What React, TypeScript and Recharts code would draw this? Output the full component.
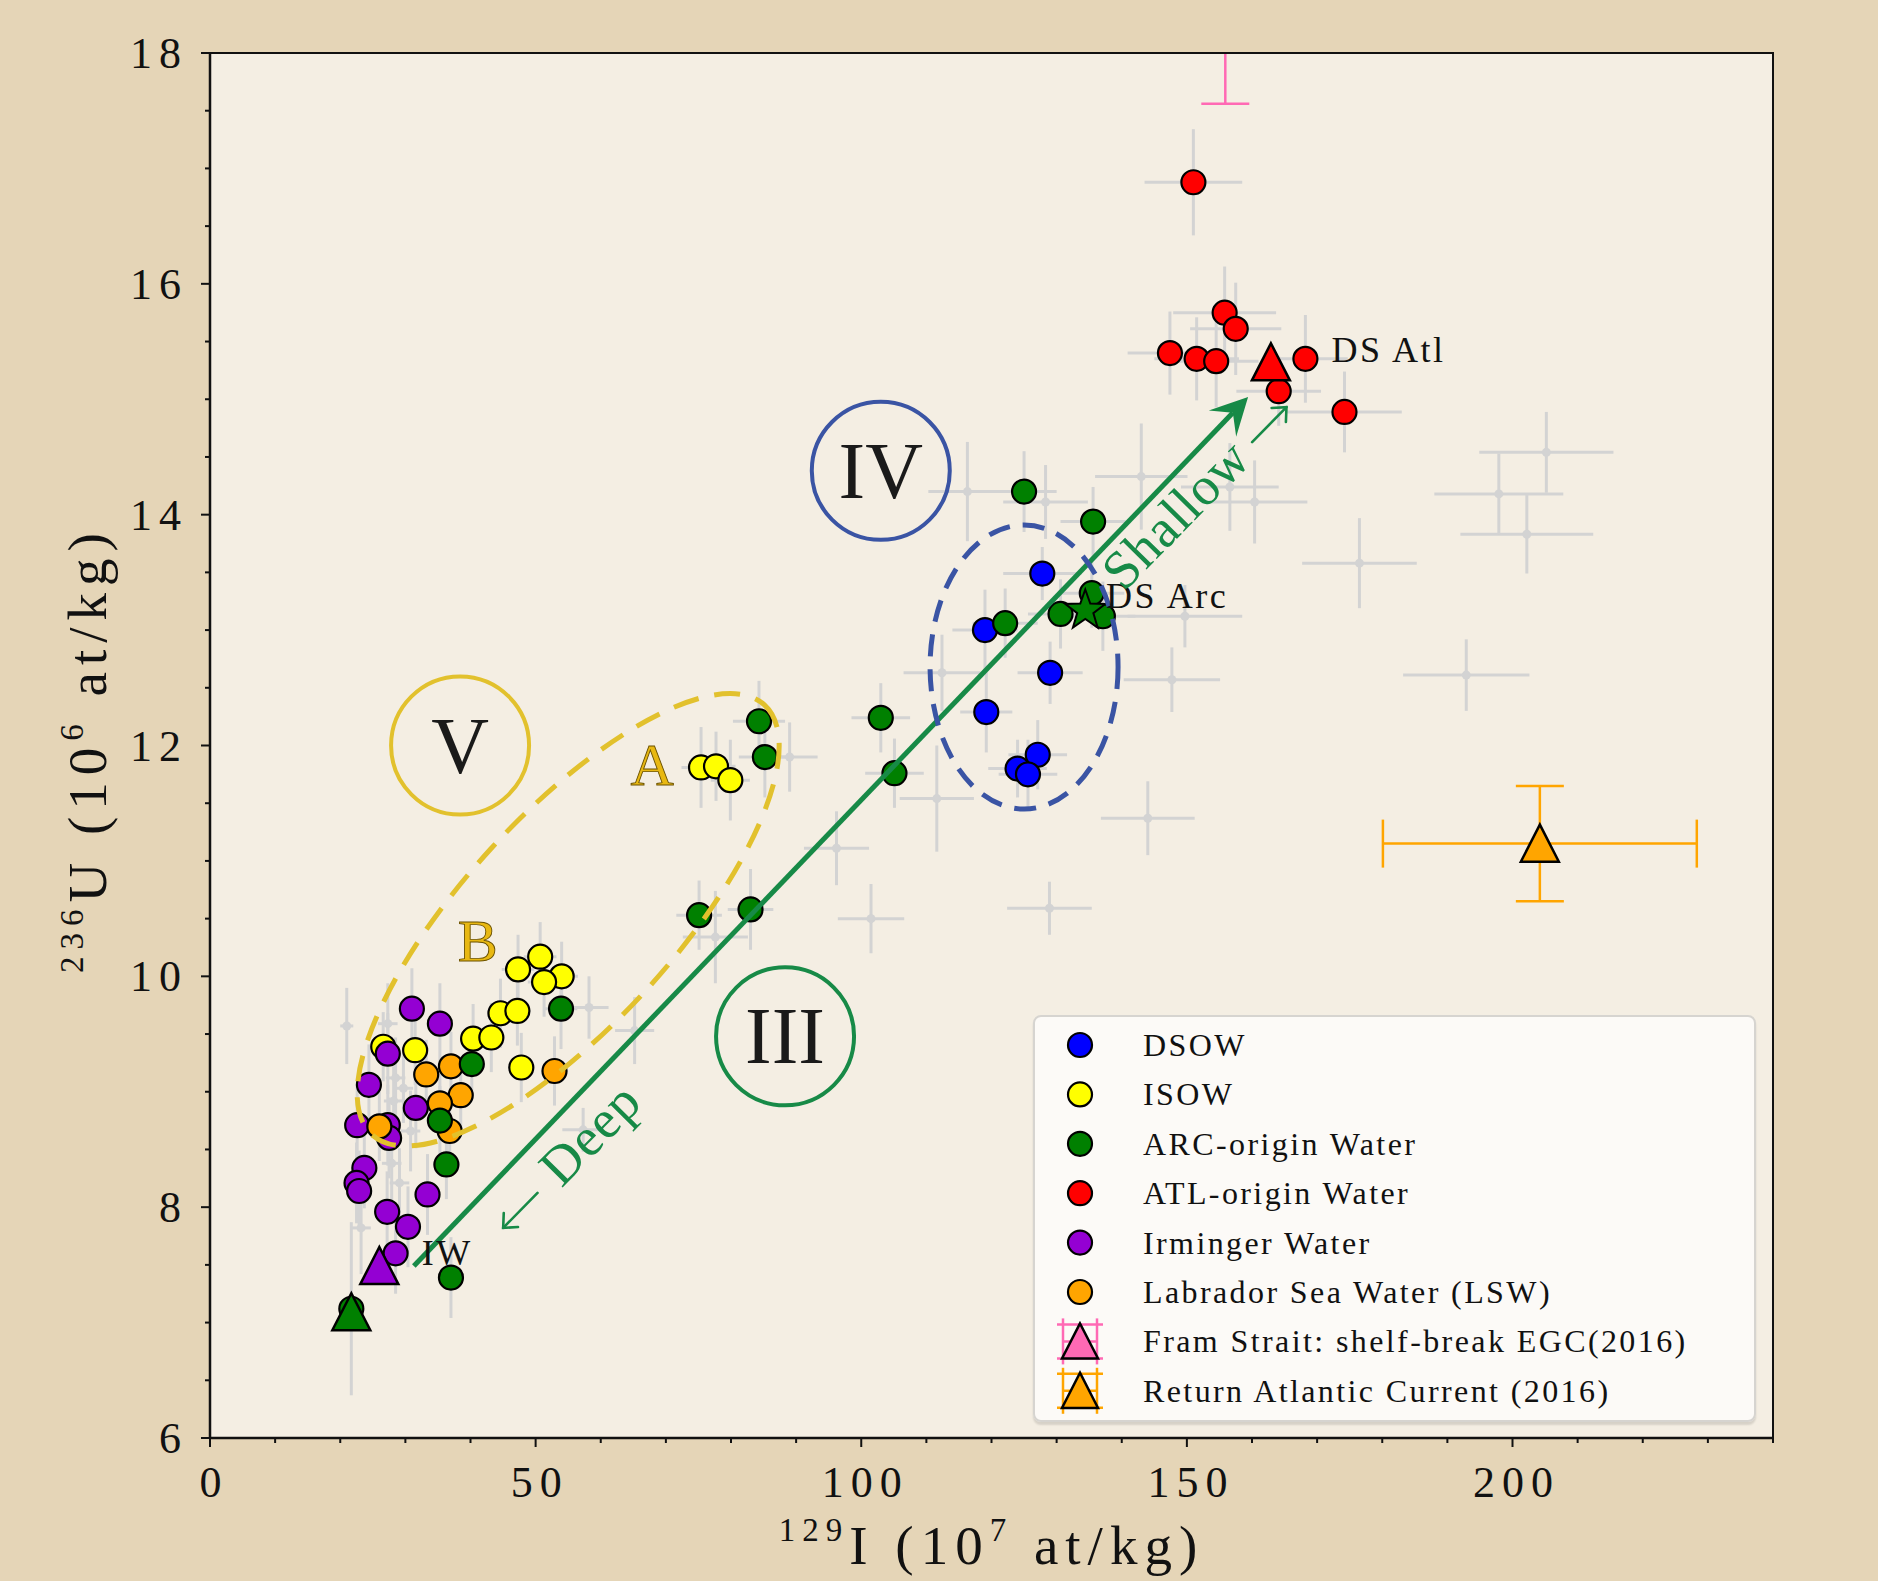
import React from "react";
import {
  ScatterChart,
  Scatter,
  XAxis,
  YAxis,
  ErrorBar,
  ReferenceDot,
  ReferenceLine,
  ReferenceArea,
  CartesianGrid,
  Legend,
} from "recharts";

// [129I, 236U, xErr, yErr]
type Row = [number, number, number, number];

const SERIF = "'Liberation Serif', 'DejaVu Serif', serif";

const xTicks = [0, 10, 20, 30, 40, 50, 60, 70, 80, 90, 100, 110, 120, 130, 140, 150, 160, 170, 180, 190, 200, 210, 220, 230, 240];
const xLabelTicks = [0, 50, 100, 150, 200];
const yTicks = [6, 6.5, 7, 7.5, 8, 8.5, 9, 9.5, 10, 10.5, 11, 11.5, 12, 12.5, 13, 13.5, 14, 14.5, 15, 15.5, 16, 16.5, 17, 17.5, 18];
const yLabelTicks = [6, 8, 10, 12, 14, 16, 18];

const dsow: Row[] = [
  [127.8, 13.49, 6.0, 0.23],
  [119.0, 13.0, 5.0, 0.35],
  [129.0, 12.63, 5.0, 0.27],
  [119.2, 12.29, 4.0, 0.35],
  [127.1, 11.92, 4.5, 0.3],
  [124.0, 11.8, 4.5, 0.25],
  [125.6, 11.75, 4.5, 0.3],
];

const isow: Row[] = [
  [75.4, 11.81, 3, 0.35],
  [77.7, 11.82, 3, 0.3],
  [79.9, 11.7, 3, 0.35],
  [50.7, 10.17, 2.5, 0.3],
  [47.3, 10.06, 2.5, 0.3],
  [54.0, 10.0, 2.5, 0.3],
  [51.3, 9.95, 2.5, 0.3],
  [44.6, 9.68, 2, 0.3],
  [47.2, 9.7, 2, 0.3],
  [40.4, 9.46, 2, 0.3],
  [43.2, 9.47, 2, 0.3],
  [26.6, 9.39, 1.5, 0.3],
  [31.5, 9.36, 2, 0.3],
  [47.8, 9.21, 2, 0.3],
];

const arcWater: Row[] = [
  [125.0, 14.2, 5, 0.35],
  [135.6, 13.94, 5, 0.3],
  [135.4, 13.32, 5, 0.3],
  [130.6, 13.14, 5, 0.3],
  [137.1, 13.12, 5, 0.3],
  [122.1, 13.06, 5, 0.3],
  [103.0, 12.24, 4.5, 0.3],
  [105.1, 11.76, 4.5, 0.3],
  [84.3, 12.21, 4, 0.35],
  [85.2, 11.9, 4, 0.35],
  [75.1, 10.53, 3.5, 0.3],
  [83.0, 10.58, 3.5, 0.35],
  [53.9, 9.72, 2.5, 0.35],
  [40.2, 9.24, 2, 0.3],
  [35.3, 8.75, 2, 0.3],
  [36.3, 8.37, 2, 0.3],
  [37.0, 7.39, 2, 0.35],
  [21.7, 7.12, 1.5, 0.75],
];

const atlWater: Row[] = [
  [151.0, 16.88, 7.5, 0.46],
  [155.8, 15.75, 7.9, 0.4],
  [157.5, 15.61, 7, 0.4],
  [147.4, 15.4, 6.5, 0.36],
  [151.5, 15.35, 6.5, 0.36],
  [154.5, 15.33, 6.5, 0.4],
  [168.2, 15.35, 6.5, 0.38],
  [164.1, 15.07, 6.5, 0.3],
  [174.2, 14.89, 8.8, 0.35],
];

const irminger: Row[] = [
  [31.0, 9.72, 1.5, 0.35],
  [35.3, 9.59, 1.5, 0.35],
  [27.3, 9.33, 1.5, 0.35],
  [24.4, 9.06, 1.5, 0.35],
  [31.6, 8.86, 1.5, 0.35],
  [22.6, 8.71, 1.5, 0.35],
  [27.3, 8.71, 1.5, 0.35],
  [27.5, 8.6, 1.5, 0.35],
  [23.7, 8.34, 1.5, 0.35],
  [22.5, 8.21, 1.5, 0.35],
  [22.9, 8.14, 1.5, 0.35],
  [33.4, 8.11, 1.5, 0.35],
  [27.2, 7.96, 1.5, 0.35],
  [30.4, 7.83, 1.5, 0.35],
  [28.5, 7.6, 1.5, 0.35],
];

const lsw: Row[] = [
  [37.0, 9.22, 2, 0.3],
  [33.2, 9.15, 2, 0.3],
  [52.9, 9.18, 2, 0.3],
  [38.5, 8.97, 2, 0.3],
  [35.3, 8.9, 2, 0.3],
  [36.8, 8.66, 2, 0.3],
  [26.0, 8.7, 2, 0.3],
];

// other stations, drawn in light grey
const otherStations: Row[] = [
  [205.2, 14.54, 10.3, 0.35],
  [197.9, 14.18, 9.9, 0.35],
  [202.2, 13.83, 10.2, 0.34],
  [176.5, 13.58, 8.8, 0.39],
  [192.9, 12.61, 9.7, 0.31],
  [116.3, 14.2, 6, 0.43],
  [128.3, 14.11, 6.5, 0.32],
  [143.0, 14.33, 7.1, 0.46],
  [156.6, 14.24, 7.5, 0.38],
  [160.4, 14.11, 8.1, 0.36],
  [149.7, 13.12, 8.8, 0.27],
  [112.4, 12.63, 5.9, 0.33],
  [147.7, 12.57, 7.4, 0.28],
  [111.6, 11.54, 5.7, 0.46],
  [144.0, 11.37, 7.2, 0.32],
  [96.2, 11.11, 5, 0.32],
  [101.5, 10.5, 5.1, 0.3],
  [128.9, 10.59, 6.5, 0.23],
  [89.0, 11.9, 4.3, 0.3],
  [77.6, 10.34, 5, 0.4],
  [58.2, 9.73, 3, 0.27],
  [65.2, 9.53, 3, 0.29],
  [57.3, 8.67, 3.2, 0.19],
  [21.0, 9.57, 1, 0.33],
  [27.3, 9.59, 1.5, 0.35],
  [28.5, 9.12, 1.5, 0.35],
  [29.7, 9.03, 1.5, 0.3],
  [28.2, 8.92, 1.5, 0.3],
  [30.8, 8.66, 1.5, 0.35],
  [27.9, 8.38, 1.5, 0.35],
  [29.1, 8.21, 1.5, 0.3],
  [23.2, 7.82, 1.5, 0.4],
];

// end members
const dsAtl: Row[] = [[162.9, 15.32, 0, 0]];
const dsArc: Row[] = [[134.4, 13.17, 0, 0]];
const iwEnd: Row[] = [[26.0, 7.49, 0, 0]];
const arcEnd: Row[] = [[21.7, 7.09, 0, 0]];
const framStrait: Row[] = [[155.9, 19.3, 7, 1.74]];
const returnAtlantic: Row[] = [[204.2, 11.15, 24.1, 0.5]];

const legendLabels = [
  "DSOW",
  "ISOW",
  "ARC-origin Water",
  "ATL-origin Water",
  "Irminger Water",
  "Labrador Sea Water (LSW)",
  "Fram Strait: shelf-break EGC(2016)",
  "Return Atlantic Current (2016)",
];
const legendColors = ["#0000ff", "#ffff00", "#008000", "#ff0000", "#9400d3", "#ffa500", "#ff69b4", "#ffa500"];

const pts = (rows: Row[]) => rows.map(([x, y, ex, ey]) => ({ x, y, ex, ey }));

const GREEN_LINE = "#178a47";
const BLUE_RING = "#3a54a4";
const GOLD = "#e2c12d";
const CLIP = "url(#plot-area-clip)";

const dot = (fill: string) => (p: any) => (
  <circle cx={p.cx} cy={p.cy} r={12} fill={fill} stroke="#000" strokeWidth={2.2} />
);

const triPoints = (cx: number, cy: number, s: number) =>
  `${cx},${cy - s} ${cx - s},${cy + s * 0.95} ${cx + s},${cy + s * 0.95}`;

const tri = (fill: string) => (p: any) => (
  <polygon points={triPoints(p.cx, p.cy, 19)} fill={fill} stroke="#000" strokeWidth={2.5} clipPath={CLIP} />
);

const starPoints = (cx: number, cy: number, R: number, r: number) => {
  const out: string[] = [];
  for (let i = 0; i < 10; i++) {
    const a = -Math.PI / 2 + (i * Math.PI) / 5;
    const rr = i % 2 === 0 ? R : r;
    out.push(`${cx + rr * Math.cos(a)},${cy + rr * Math.sin(a)}`);
  }
  return out.join(" ");
};

const star = (p: any) => (
  <polygon points={starPoints(p.cx, p.cy, 21, 8.5)} fill="#008000" stroke="#000" strokeWidth={2} />
);

const XTick = (p: any) => {
  const v = p.payload.value;
  const major = xLabelTicks.includes(v);
  return (
    <g>
      <line x1={p.x} x2={p.x} y1={p.y} y2={p.y + (major ? 9 : 5)} stroke="#111" strokeWidth={2} />
      {major && (
        <text x={p.x + 4} y={p.y + 59} textAnchor="middle" fontFamily={SERIF} fontSize={44} letterSpacing={7} fill="#111">
          {v}
        </text>
      )}
    </g>
  );
};

const YTick = (p: any) => {
  const v = p.payload.value;
  const major = yLabelTicks.includes(v);
  return (
    <g>
      <line x1={p.x} x2={p.x - (major ? 9 : 5)} y1={p.y} y2={p.y} stroke="#111" strokeWidth={2} />
      {major && (
        <text x={p.x - 22} y={p.y + 15} textAnchor="end" fontFamily={SERIF} fontSize={44} letterSpacing={7} fill="#111">
          {v}
        </text>
      )}
    </g>
  );
};

const XTitle = (props: any) => {
  const vb = props.viewBox ?? { x: 210, y: 1438, width: 1563, height: 143 };
  const cx = vb.x + vb.width / 2;
  return (
    <text x={cx} y={vb.y + 126} textAnchor="middle" fontFamily={SERIF} fontSize={55} letterSpacing={7} fill="#111">
      <tspan fontSize={33} dy={-23}>129</tspan>
      <tspan dy={23}>I (10</tspan>
      <tspan fontSize={33} dy={-23}>7</tspan>
      <tspan dy={23}> at/kg)</tspan>
    </text>
  );
};

const YTitle = (props: any) => {
  const vb = props.viewBox ?? { x: 0, y: 53, width: 210, height: 1385 };
  const cy = vb.y + vb.height / 2 + 4;
  const x = 106;
  return (
    <text x={x} y={cy} transform={`rotate(-90 ${x} ${cy})`} textAnchor="middle" fontFamily={SERIF} fontSize={55} letterSpacing={7} fill="#111">
      <tspan fontSize={33} dy={-23}>236</tspan>
      <tspan dy={23}>U (10</tspan>
      <tspan fontSize={33} dy={-23}>6</tspan>
      <tspan dy={23}> at/kg)</tspan>
    </text>
  );
};

const ArrowShape = (p: any) => {
  const { x1, y1, x2, y2 } = p;
  const dx = x2 - x1;
  const dy = y2 - y1;
  const len = Math.hypot(dx, dy) || 1;
  const ux = dx / len;
  const uy = dy / len;
  const nx = -uy;
  const ny = ux;
  const L = 37;
  const w = 19;
  const notch = 22;
  const bx = x2 - L * ux;
  const by = y2 - L * uy;
  const head = `${x2},${y2} ${bx + w * nx},${by + w * ny} ${x2 - notch * ux},${y2 - notch * uy} ${bx - w * nx},${by - w * ny}`;
  return (
    <g>
      <line x1={x1} y1={y1} x2={x2 - notch * ux} y2={y2 - notch * uy} stroke={GREEN_LINE} strokeWidth={5} />
      <polygon points={head} fill={GREEN_LINE} />
    </g>
  );
};

const ring = (label: string, color: string) => (p: any) => (
  <g>
    <circle cx={p.cx} cy={p.cy} r={69} fill="none" stroke={color} strokeWidth={4} />
    <text x={p.cx} y={p.cy + 27} textAnchor="middle" fontFamily={SERIF} fontSize={80} fill="#1a1a1a">
      {label}
    </text>
  </g>
);

const dashedEllipse = (rx: number, ry: number, angle: number, color: string, dash: string) => (p: any) => (
  <ellipse
    cx={p.cx}
    cy={p.cy}
    rx={rx}
    ry={ry}
    transform={`rotate(${angle} ${p.cx} ${p.cy})`}
    fill="none"
    stroke={color}
    strokeWidth={5}
    strokeDasharray={dash}
  />
);

const label =
  (text: string, opts: { size: number; anchor?: string; fill?: string; stroke?: string; spacing?: number }) =>
  (p: any) => (
    <text
      x={p.cx}
      y={p.cy}
      textAnchor={opts.anchor ?? "start"}
      fontFamily={SERIF}
      fontSize={opts.size}
      letterSpacing={opts.spacing ?? 2.5}
      fill={opts.fill ?? "#111"}
      stroke={opts.stroke ?? "none"}
      strokeWidth={opts.stroke ? 0.9 : 0}
    >
      {text}
    </text>
  );

// rotated word with a thin text-style arrow; anchor is the baseline point between word and arrow
const directionLabel = (word: string, arrowAfter: boolean) => (p: any) => {
  const ay = -14;
  const a0 = arrowAfter ? 7 : -10;
  const a1 = arrowAfter ? 56 : -59;
  const s = arrowAfter ? 1 : -1;
  return (
    <g transform={`rotate(-45.5 ${p.cx} ${p.cy}) translate(${p.cx} ${p.cy})`}>
      <text
        x={arrowAfter ? -6 : 10}
        y={0}
        textAnchor={arrowAfter ? "end" : "start"}
        fontFamily={SERIF}
        fontSize={54}
        letterSpacing={1}
        fill={GREEN_LINE}
      >
        {word}
      </text>
      <g stroke={GREEN_LINE} strokeWidth={2.6} fill="none" strokeLinecap="round">
        <line x1={a0} y1={ay} x2={a1} y2={ay} />
        <polyline points={`${a1 - s * 11},${ay - 10} ${a1},${ay} ${a1 - s * 11},${ay + 10}`} />
      </g>
    </g>
  );
};

const FrameShape = (p: any) => (
  <g>
    <defs>
      <clipPath id="plot-area-clip">
        <rect x={p.x} y={p.y} width={p.width} height={p.height} />
      </clipPath>
    </defs>
    <rect x={p.x} y={p.y} width={p.width} height={p.height} fill="none" stroke="#111" strokeWidth={2} />
  </g>
);

const LegendMarker = ({ i, cx, cy }: { i: number; cx: number; cy: number }) => {
  const color = legendColors[i];
  if (i < 6) return <circle cx={cx} cy={cy} r={12} fill={color} stroke="#000" strokeWidth={2.2} />;
  return (
    <g stroke={color} strokeWidth={2.5}>
      <line x1={cx} x2={cx} y1={cy - 17} y2={cy + 17} />
      <line x1={cx - 23} x2={cx + 23} y1={cy - 17} y2={cy - 17} />
      <line x1={cx - 23} x2={cx + 23} y1={cy + 17} y2={cy + 17} />
      <line x1={cx - 17} x2={cx + 17} y1={cy} y2={cy} />
      <line x1={cx - 17} x2={cx - 17} y1={cy - 23} y2={cy + 23} />
      <line x1={cx + 17} x2={cx + 17} y1={cy - 23} y2={cy + 23} />
      <polygon points={triPoints(cx, cy, 18)} fill={color} stroke="#000" strokeWidth={2.5} />
    </g>
  );
};

const LegendBox = () => (
  <div
    style={{
      width: 723,
      height: 407,
      boxSizing: "border-box",
      background: "rgba(252,251,249,0.93)",
      border: "2px solid #d6d4d0",
      borderRadius: 8,
      boxShadow: "0 3px 2px rgba(0,0,0,0.12)",
    }}
  >
    <svg width={719} height={403} style={{ display: "block" }}>
      {legendLabels.map((t, i) => {
        const cy = 28 + i * 49.4;
        return (
          <g key={t}>
            <LegendMarker i={i} cx={45} cy={cy} />
            <text x={108} y={cy + 11} fontFamily={SERIF} fontSize={32} letterSpacing={2.4} fill="#111">
              {t}
            </text>
          </g>
        );
      })}
    </svg>
  </div>
);

const allColored = [...dsow, ...isow, ...arcWater, ...atlWater, ...irminger, ...lsw];

const none = () => <g />;

export default function App() {
  return (
    <div
      style={{
        position: "absolute",
        left: 0,
        top: 0,
        width: 1878,
        height: 1581,
        background: "#e5d5b7",
        fontFamily: SERIF,
      }}
    >
      <ScatterChart width={1878} height={1581} margin={{ top: 53, right: 105, bottom: 0, left: 0 }}>
        <CartesianGrid horizontal={false} vertical={false} fill="#f4eee3" fillOpacity={1} />
        <XAxis
          type="number"
          dataKey="x"
          domain={[0, 240]}
          allowDataOverflow
          ticks={xTicks}
          interval={0}
          tickSize={0}
          tickMargin={0}
          tickLine={false}
          tick={<XTick />}
          height={143}
          axisLine={{ stroke: "#111", strokeWidth: 2.5 }}
          label={XTitle}
        />
        <YAxis
          type="number"
          dataKey="y"
          domain={[6, 18]}
          allowDataOverflow
          ticks={yTicks}
          interval={0}
          tickSize={0}
          tickMargin={0}
          tickLine={false}
          tick={<YTick />}
          width={210}
          axisLine={{ stroke: "#111", strokeWidth: 2.5 }}
          label={YTitle}
        />

        {/* grey stations */}
        <Scatter data={pts(otherStations)} shape={(p: any) => <circle cx={p.cx} cy={p.cy} r={4.5} fill="#d3d3d3" />} isAnimationActive={false} zIndex={601}>
          <ErrorBar dataKey="ex" direction="x" width={0} stroke="#d3d3d3" strokeWidth={3} isAnimationActive={false} />
          <ErrorBar dataKey="ey" direction="y" width={0} stroke="#d3d3d3" strokeWidth={3} isAnimationActive={false} />
        </Scatter>

        {/* error bars of all coloured samples, kept under every marker */}
        <Scatter data={pts(allColored)} shape={none} isAnimationActive={false} zIndex={602}>
          <ErrorBar dataKey="ex" direction="x" width={0} stroke="#d3d3d3" strokeWidth={3} isAnimationActive={false} />
          <ErrorBar dataKey="ey" direction="y" width={0} stroke="#d3d3d3" strokeWidth={3} isAnimationActive={false} />
        </Scatter>

        <Scatter name="DSOW" data={pts(dsow)} shape={dot("#0000ff")} isAnimationActive={false} zIndex={603} />
        <Scatter name="ISOW" data={pts(isow)} shape={dot("#ffff00")} isAnimationActive={false} zIndex={604} />
        <Scatter name="Irminger Water" data={pts(irminger)} shape={dot("#9400d3")} isAnimationActive={false} zIndex={605} />
        <Scatter name="Labrador Sea Water (LSW)" data={pts(lsw)} shape={dot("#ffa500")} isAnimationActive={false} zIndex={606} />
        <Scatter name="ARC-origin Water" data={pts(arcWater)} shape={dot("#008000")} isAnimationActive={false} zIndex={607} />
        <Scatter name="ATL-origin Water" data={pts(atlWater)} shape={dot("#ff0000")} isAnimationActive={false} zIndex={608} />

        {/* end members */}
        <Scatter data={pts(dsAtl)} shape={tri("#ff0000")} isAnimationActive={false} zIndex={610} />
        <Scatter data={pts(iwEnd)} shape={tri("#9400d3")} isAnimationActive={false} zIndex={610} />
        <Scatter data={pts(arcEnd)} shape={tri("#008000")} isAnimationActive={false} zIndex={610} />
        <Scatter data={pts(dsArc)} shape={star} isAnimationActive={false} zIndex={610} />
        <Scatter data={pts(framStrait)} shape={tri("#ff69b4")} isAnimationActive={false} zIndex={611}>
          <ErrorBar dataKey="ex" direction="x" width={24} stroke="#ff69b4" strokeWidth={2.5} clipPath={CLIP} isAnimationActive={false} />
          <ErrorBar dataKey="ey" direction="y" width={24} stroke="#ff69b4" strokeWidth={2.5} clipPath={CLIP} isAnimationActive={false} />
        </Scatter>
        <Scatter data={pts(returnAtlantic)} shape={tri("#ffa500")} isAnimationActive={false} zIndex={611}>
          <ErrorBar dataKey="ex" direction="x" width={24} stroke="#ffa500" strokeWidth={2.5} isAnimationActive={false} />
          <ErrorBar dataKey="ey" direction="y" width={24} stroke="#ffa500" strokeWidth={2.5} isAnimationActive={false} />
        </Scatter>

        {/* mixing arrow and regions */}
        <ReferenceLine segment={[{ x: 31.3, y: 7.49 }, { x: 159.4, y: 15.02 }]} shape={ArrowShape} zIndex={700} />
        <ReferenceDot x={103.0} y={14.38} r={69} shape={ring("IV", BLUE_RING)} zIndex={700} />
        <ReferenceDot x={88.3} y={9.48} r={69} shape={ring("III", GREEN_LINE)} zIndex={700} />
        <ReferenceDot x={38.4} y={12.0} r={69} shape={ring("V", GOLD)} zIndex={700} />
        <ReferenceDot x={125.0} y={12.68} r={94} shape={dashedEllipse(94, 142, 0, BLUE_RING, "22 13")} zIndex={700} />
        <ReferenceDot x={55.0} y={10.49} r={100} shape={dashedEllipse(291, 105, -47.6, GOLD, "26 16")} zIndex={700} />

        {/* text annotations */}
        <ReferenceDot x={172.2} y={15.32} r={1} shape={label("DS Atl", { size: 36 })} zIndex={800} />
        <ReferenceDot x={137.6} y={13.19} r={1} shape={label("DS Arc", { size: 36 })} zIndex={800} />
        <ReferenceDot x={32.5} y={7.5} r={1} shape={label("IW", { size: 36 })} zIndex={800} />
        <ReferenceDot x={67.9} y={11.66} r={1} shape={label("A", { size: 60, anchor: "middle", fill: "#e8b812", stroke: "#6b5200", spacing: 0 })} zIndex={800} />
        <ReferenceDot x={41.1} y={10.13} r={1} shape={label("B", { size: 60, anchor: "middle", fill: "#e8b812", stroke: "#6b5200", spacing: 0 })} zIndex={800} />
        <ReferenceDot x={160.8} y={14.5} r={1} shape={directionLabel("Shallow", true)} zIndex={800} />
        <ReferenceDot x={52.9} y={8.1} r={1} shape={directionLabel("Deep", false)} zIndex={800} />

        {/* frame (also defines the plot clip) */}
        <ReferenceArea x1={0} x2={240} y1={6} y2={18} shape={FrameShape} zIndex={900} />

        <Legend
          layout="vertical"
          align="center"
          verticalAlign="middle"
          content={() => <LegendBox />}
          wrapperStyle={{ position: "absolute", left: 1033, top: 1015, width: 723, height: 407 }}
        />
      </ScatterChart>
    </div>
  );
}
